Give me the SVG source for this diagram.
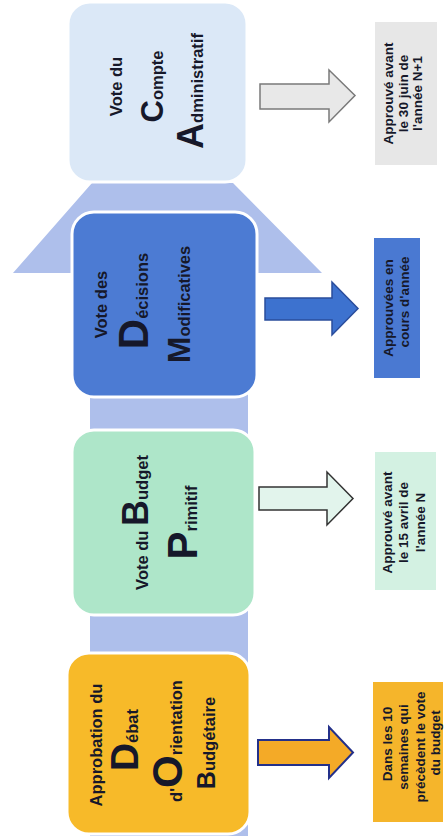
<svg xmlns="http://www.w3.org/2000/svg" width="446" height="840" viewBox="0 0 446 840">
<style>
text{font-family:"Liberation Sans",Arial,sans-serif;font-weight:bold;fill:#16182a;}
.m{font-size:16.5px;text-anchor:middle;}
.r{font-size:13.5px;text-anchor:middle;}
.box{stroke:#ffffff;stroke-width:3;}
</style>
<rect width="446" height="840" fill="#ffffff"/>
<g id="backbone">
<path d="M90,273 L13,273 L92,183 L233,183 L322,273 L248,273 L248,836 L90,836 Z" fill="#aebfeb"/>
</g>
<g id="connectors">
<path d="M260,84 L329,84 L329,70 L355,95.5 L329,122 L329,109 L260,109 Z" fill="#e8e8e8" stroke="#7a7a7a" stroke-width="1.5"/>
<path d="M265,298 L332,298 L332,282 L358,308.5 L332,335 L332,320 L265,320 Z" fill="#3d72cf" stroke="#2a4d9c" stroke-width="1.5"/>
<path d="M259,487 L327,487 L327,472 L353,498.5 L327,525 L327,510 L259,510 Z" fill="#e2f4ec" stroke="#333333" stroke-width="1.5"/>
<path d="M258,740 L329,740 L329,727 L353,752.5 L329,778 L329,765 L258,765 Z" fill="#f4aa27" stroke="#23308a" stroke-width="2"/>
</g>
<g id="node-ca">
<rect class="box" x="68" y="2" width="179" height="180" rx="22" fill="#dbe8f7"/>
<g transform="translate(157.5,92) rotate(-90)">
<text class="m" x="5.5" y="-35.5">Vote du</text>
<text class="m" x="5.5" y="5.5"><tspan font-size="31">C</tspan>ompte</text>
<text class="m" x="1" y="45.5"><tspan font-size="36">A</tspan>dministratif</text>
</g>
</g>
<g id="node-dm">
<rect class="box" x="72" y="212" width="185" height="185" rx="22" fill="#4c7bd3"/>
<g transform="translate(164.5,304.5) rotate(-90)">
<text class="m" x="0" y="-57.5">Vote des</text>
<text class="m" x="3.5" y="-16.5"><tspan font-size="42">D</tspan>écisions</text>
<text class="m" x="0" y="25.5"><tspan font-size="32">M</tspan>odificatives</text>
</g>
</g>
<g id="node-bp">
<rect class="box" x="72" y="430" width="183" height="185" rx="22" fill="#aee6c9"/>
<g transform="translate(163.5,522.5) rotate(-90)">
<text class="m" x="0" y="-15.5">Vote du <tspan font-size="36">B</tspan>udget</text>
<text class="m" x="0" y="33.5"><tspan font-size="42">P</tspan>rimitif</text>
</g>
</g>
<g id="node-dob">
<rect class="box" x="67" y="653" width="183" height="181" rx="22" fill="#f7ba29"/>
<g transform="translate(158.5,743) rotate(-90)">
<text class="m" x="-2" y="-56.5">Approbation du</text>
<text class="m" x="3" y="-20.5"><tspan font-size="39">D</tspan>ébat</text>
<text class="m" x="2" y="23.5">d'<tspan font-size="42">O</tspan>rientation</text>
<text class="m" x="0" y="56.5"><tspan font-size="25">B</tspan>udgétaire</text>
</g>
</g>
<g id="note-ca">
<rect x="375" y="22" width="62" height="143" fill="#e7e7e7"/>
<g transform="translate(406,93.5) rotate(-90)">
<text class="r" font-size="13" x="0" y="-13">Approuvé avant</text>
<text class="r" font-size="13" x="0" y="1.5">le 30 juin de</text>
<text class="r" font-size="13" x="0" y="16">l'année N+1</text>
</g>
</g>
<g id="note-dm">
<rect x="374" y="238" width="46" height="140" fill="#4a79d2"/>
<g transform="translate(397,308) rotate(-90)">
<text class="r" x="0" y="-4">Approuvées en</text>
<text class="r" x="6" y="12">cours d'année</text>
</g>
</g>
<g id="note-bp">
<rect x="375" y="452" width="61" height="138" fill="#d3f1e2"/>
<g transform="translate(405.5,522.5) rotate(-90)">
<text class="r" font-size="14" x="0" y="-13.5">Approuvé avant</text>
<text class="r" font-size="14" x="0" y="2.5">le 15 avril de</text>
<text class="r" font-size="14" x="0" y="19.5">l'année N</text>
</g>
</g>
<g id="note-dob">
<rect x="373" y="682" width="70" height="140" fill="#f5b52b"/>
<g transform="translate(408,750) rotate(-90)">
<text class="r" x="6" y="-16">Dans les 10</text>
<text class="r" x="3" y="0">semaines qui</text>
<text class="r" x="3" y="17">précèdent le vote</text>
<text class="r" x="7" y="32">du budget</text>
</g>
</g>
</svg>
